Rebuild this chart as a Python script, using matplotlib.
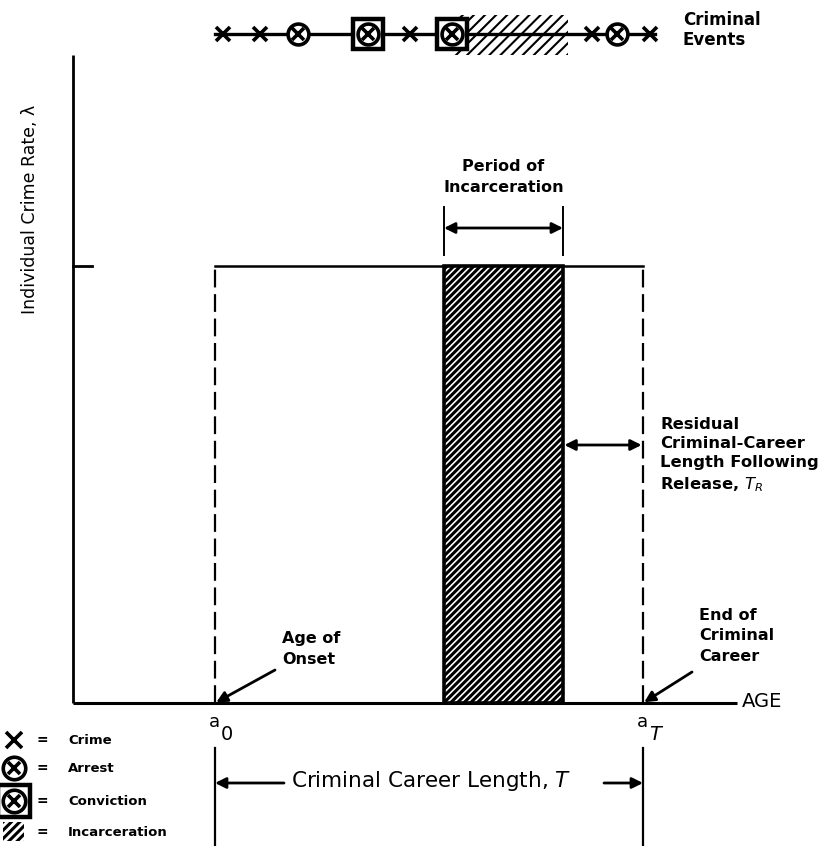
import matplotlib
matplotlib.use("Agg")
import matplotlib.pyplot as plt
from matplotlib.patches import Rectangle

plt.rcParams['font.family'] = ['DejaVu Sans']
plt.rcParams['hatch.linewidth'] = 1.6
plt.rcParams['mathtext.fontset'] = 'dejavusans'

# ---- data (age in arbitrary units, rate lambda) ----
onset_age = 14.2
end_age = 57.0
incarceration = [37.1, 49.0]
crime_rate = 1.0
axis_age_max = 66.4
axis_rate_max = 1.483
tick_rate = [1.0]

event_ages = [15.0, 18.7, 22.5, 29.5, 33.7, 37.9, 51.9, 54.4, 57.7]
event_types = ['crime', 'crime', 'arrest', 'conviction', 'crime',
               'conviction', 'crime', 'arrest', 'crime']
event_line = [14.2, 58.2]
event_incarceration = [38.0, 49.5]

legend_items = ['Crime', 'Arrest', 'Conviction', 'Incarceration']

# layout helpers (pixel -> data) for annotations
def X(px):
    return (px - 73) / 10.0

def Y(py):
    return (703 - py) / 437.0

fig = plt.figure(figsize=(8.29, 8.46), dpi=100)
ax = fig.add_axes([0, 0, 1, 1])
ax.set_xlim(X(0), X(829))
ax.set_ylim(Y(846), Y(0))
ax.axis('off')

K = 'black'
BOLD = dict(fontweight='bold')


def hatch_lw(patch, lw):
    try:
        patch.set_hatch_linewidth(lw)
    except Exception:
        pass
    return patch


# axes
ax.plot([0, axis_age_max], [0, 0], color=K, lw=2.2, solid_capstyle='butt')
ax.plot([0, 0], [0, axis_rate_max], color=K, lw=2.0, solid_capstyle='butt')
for t in tick_rate:
    ax.plot([0, X(92)], [t, t], color=K, lw=2.0)

# crime rate plateau
ax.plot([onset_age, end_age], [crime_rate, crime_rate], color=K, lw=1.8)
for a in (onset_age, end_age):
    ax.plot([a, a], [0, crime_rate], color=K, lw=1.6, dashes=(8, 3))

# incarceration
ax.add_patch(hatch_lw(Rectangle((incarceration[0], 0),
                                incarceration[1] - incarceration[0],
                                crime_rate, facecolor='white', edgecolor=K,
                                lw=2.6, hatch='/////', zorder=3), 2.2))

# y label
ax.text(X(30), Y(209), 'Individual Crime Rate, λ', rotation=90, ha='center',
        va='center', fontsize=12.5)

# AGE label
ax.text(X(742), Y(701), 'AGE', ha='left', va='center', fontsize=14)

# a0, aT labels
for a, sub, st in ((onset_age, '0', 'normal'), (end_age, 'T', 'italic')):
    ax.text(a - 0.1, Y(722), 'a', ha='center', va='center', fontsize=13)
    ax.text(a + 1.2, Y(734), sub, ha='center', va='center', fontsize=14,
            style=st)

# Period of incarceration
ax.text((incarceration[0] + incarceration[1]) / 2, Y(177),
        'Period of\nIncarceration', ha='center', va='center', fontsize=11.5,
        linespacing=1.5, **BOLD)
for a in incarceration:
    ax.plot([a, a], [Y(207), Y(255)], color=K, lw=1.4)
ax.annotate('', xy=(incarceration[0], Y(228)), xytext=(incarceration[1], Y(228)),
            arrowprops=dict(arrowstyle='<|-|>', color=K, lw=2, mutation_scale=16,
                            shrinkA=0, shrinkB=0))

# Residual
ax.annotate('', xy=(incarceration[1], Y(445)), xytext=(end_age, Y(445)),
            arrowprops=dict(arrowstyle='<|-|>', color=K, lw=2, mutation_scale=16,
                            shrinkA=1, shrinkB=1))
ax.text(X(660), Y(455), 'Residual\nCriminal-Career\nLength Following\nRelease, $T_R$',
        ha='left', va='center', fontsize=11.8, linespacing=1.35, **BOLD)

# Age of onset
ax.text(X(282), Y(649), 'Age of\nOnset', ha='left', va='center', fontsize=11.5,
        linespacing=1.5, **BOLD)
ax.annotate('', xy=(onset_age, 0), xytext=(X(275), Y(670)),
            arrowprops=dict(arrowstyle='-|>', color=K, lw=2, mutation_scale=16,
                            shrinkA=0, shrinkB=1))
# End of career
ax.text(X(699), Y(636), 'End of\nCriminal\nCareer', ha='left', va='center',
        fontsize=11.5, linespacing=1.45, **BOLD)
ax.annotate('', xy=(end_age, 0), xytext=(X(692), Y(672)),
            arrowprops=dict(arrowstyle='-|>', color=K, lw=2, mutation_scale=16,
                            shrinkA=0, shrinkB=1))

# Career length
for a in (onset_age, end_age):
    ax.plot([a, a], [Y(748), Y(846)], color=K, lw=1.6)
ax.text(X(431), Y(781), 'Criminal Career Length, $T$', ha='center', va='center',
        fontsize=15.5)
ax.annotate('', xy=(onset_age, Y(783)), xytext=(X(284), Y(783)),
            arrowprops=dict(arrowstyle='-|>', color=K, lw=2, mutation_scale=16,
                            shrinkA=0, shrinkB=0))
ax.annotate('', xy=(end_age, Y(783)), xytext=(X(604), Y(783)),
            arrowprops=dict(arrowstyle='-|>', color=K, lw=2, mutation_scale=16,
                            shrinkA=0, shrinkB=0))

# ---- criminal events ----
ey = Y(34)
ax.add_patch(hatch_lw(Rectangle((event_incarceration[0], Y(55)),
                                event_incarceration[1] - event_incarceration[0],
                                Y(15) - Y(55), facecolor='none', edgecolor=K,
                                lw=0, hatch='///', zorder=2), 1.5))
ax.plot(event_line, [ey, ey], color=K, lw=2.4, zorder=3)


def draw_event(x, y, kind, scale=1.0):
    if kind == 'crime':
        ax.plot(x, y, marker='x', ms=10.5 * scale, mew=2.6, color=K, zorder=5)
    else:
        if kind == 'conviction':
            ax.plot(x, y, marker='s', ms=21 * scale, mew=3.2, mfc='white', mec=K,
                    zorder=5)
        ax.plot(x, y, marker='o', ms=15 * scale, mew=2.6, mfc='white', mec=K,
                zorder=6)
        ax.plot(x, y, marker='x', ms=8 * scale, mew=2.6, color=K, zorder=7)


for a, t in zip(event_ages, event_types):
    draw_event(a, ey, t)

ax.text(X(683), Y(30), 'Criminal\nEvents', ha='left', va='center', fontsize=12,
        linespacing=1.15, **BOLD)

# ---- key ----
key_y = [Y(740), Y(768), Y(801), Y(832)]
key_kind = ['crime', 'arrest', 'conviction', 'incarceration']
for yy, kind, label in zip(key_y, key_kind, legend_items):
    if kind == 'incarceration':
        ax.add_patch(hatch_lw(Rectangle((X(3), Y(841)), X(24) - X(3),
                                        Y(822) - Y(841), facecolor='none',
                                        edgecolor=K, lw=0, hatch='////'), 2.2))
    else:
        draw_event(X(14), yy, kind, scale=1.08)
    ax.text(X(42), yy, '=', ha='center', va='center', fontsize=10, **BOLD)
    ax.text(X(68), yy, label, ha='left', va='center', fontsize=9.5, **BOLD)

fig.savefig('out.png', dpi=100)
